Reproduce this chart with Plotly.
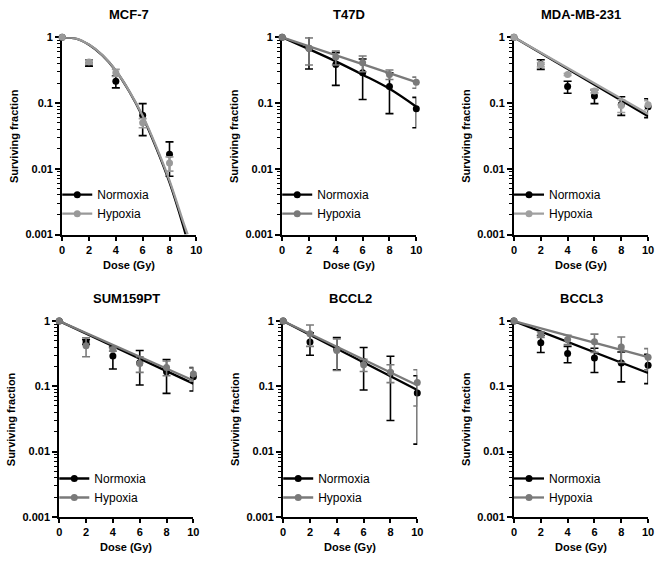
import plotly.graph_objects as go
from plotly.subplots import make_subplots

W, H = 662, 561
FONT = "Liberation Sans, Arial, Helvetica, sans-serif"

# ---------------- data ----------------
titles = ["MCF-7", "T47D", "MDA-MB-231", "SUM159PT", "BCCL2", "BCCL3"]
dose = [0, 2, 4, 6, 8, 10]
dose_mcf7 = [0, 2, 4, 6, 8]
fit_ends = [0, 10]

# MCF-7
mcf7_norm = [1, 0.41, 0.215, 0.065, 0.0167]
mcf7_norm_sd = [0, 0.045, 0.045, 0.033, 0.009]
mcf7_hyp = [1, 0.42, 0.29, 0.05, 0.0122]
mcf7_hyp_sd = [0, 0.03, 0.035, 0.008, 0.003]
mcf7_fit_dose_norm = [0, 1, 2, 3, 4, 5, 6, 7, 8, 9, 9.2]
mcf7_fit_norm = [1, 0.96, 0.77, 0.53, 0.31, 0.15, 0.062, 0.021, 0.0062, 0.0014, 0.001]
mcf7_fit_dose_hyp = [0, 1, 2, 3, 4, 5, 6, 7, 8, 9, 9.35]
mcf7_fit_hyp = [1, 0.965, 0.775, 0.535, 0.312, 0.152, 0.064, 0.022, 0.0066, 0.0016, 0.001]

# T47D
t47d_norm = [1, 0.68, 0.386, 0.29, 0.179, 0.082]
t47d_norm_sd = [0, 0.35, 0.2, 0.177, 0.11, 0.04]
t47d_hyp = [1, 0.68, 0.5, 0.41, 0.273, 0.208]
t47d_hyp_sd = [0, 0.3, 0.12, 0.11, 0.045, 0.04]
t47d_fit_norm = [1, 0.66, 0.43, 0.27, 0.165, 0.088]
t47d_fit_hyp = [1, 0.208]

# MDA-MB-231
mda_norm = [1, 0.39, 0.178, 0.128, 0.095, 0.088]
mda_norm_sd = [0, 0.065, 0.037, 0.03, 0.03, 0.028]
mda_hyp = [1, 0.385, 0.272, 0.153, 0.092, 0.094]
mda_hyp_sd = [0, 0.03, 0.01, 0.01, 0.02, 0.015]
mda_fit_norm = [1, 0.063]
mda_fit_hyp = [1, 0.068]

# SUM159PT
sum_norm = [1, 0.48, 0.292, 0.23, 0.168, 0.14]
sum_norm_sd = [0, 0.04, 0.108, 0.125, 0.09, 0.055]
sum_hyp = [1, 0.42, 0.367, 0.224, 0.195, 0.155]
sum_hyp_sd = [0, 0.135, 0.02, 0.06, 0.05, 0.035]
sum_fit_norm = [1, 0.11]
sum_fit_hyp = [1, 0.123]

# BCCL2
b2_norm = [1, 0.48, 0.37, 0.241, 0.16, 0.079]
b2_norm_sd = [0, 0.18, 0.19, 0.153, 0.13, 0.066]
b2_hyp = [1, 0.64, 0.355, 0.214, 0.164, 0.115]
b2_hyp_sd = [0, 0.23, 0.18, 0.045, 0.05, 0.065]
b2_fit_norm = [1, 0.088]
b2_fit_hyp = [1, 0.104]

# BCCL3
b3_norm = [1, 0.466, 0.32, 0.273, 0.227, 0.21]
b3_norm_sd = [0, 0.135, 0.09, 0.11, 0.11, 0.1]
b3_hyp = [1, 0.62, 0.522, 0.482, 0.402, 0.279]
b3_hyp_sd = [0, 0.06, 0.085, 0.15, 0.17, 0.1]
b3_fit_norm = [1, 0.16]
b3_fit_hyp = [1, 0.28]

y_tickvals = [0.001, 0.01, 0.1, 1]
y_ticktext = ["0.001", "0.01", "0.1", "1"]
x_tickvals = [0, 2, 4, 6, 8, 10]

panels = [
    dict(x=dose_mcf7, n=mcf7_norm, nsd=mcf7_norm_sd, h=mcf7_hyp, hsd=mcf7_hyp_sd,
         fxn=mcf7_fit_dose_norm, fn=mcf7_fit_norm, fxh=mcf7_fit_dose_hyp, fh=mcf7_fit_hyp,
         gray="#999999", spline=True),
    dict(x=dose, n=t47d_norm, nsd=t47d_norm_sd, h=t47d_hyp, hsd=t47d_hyp_sd,
         fxn=dose, fn=t47d_fit_norm, fxh=fit_ends, fh=t47d_fit_hyp, gray="#7a7a7a", spline=True),
    dict(x=dose, n=mda_norm, nsd=mda_norm_sd, h=mda_hyp, hsd=mda_hyp_sd,
         fxn=fit_ends, fn=mda_fit_norm, fxh=fit_ends, fh=mda_fit_hyp, gray="#a0a0a0", spline=False),
    dict(x=dose, n=sum_norm, nsd=sum_norm_sd, h=sum_hyp, hsd=sum_hyp_sd,
         fxn=fit_ends, fn=sum_fit_norm, fxh=fit_ends, fh=sum_fit_hyp, gray="#7a7a7a", spline=False),
    dict(x=dose, n=b2_norm, nsd=b2_norm_sd, h=b2_hyp, hsd=b2_hyp_sd,
         fxn=fit_ends, fn=b2_fit_norm, fxh=fit_ends, fh=b2_fit_hyp, gray="#7a7a7a", spline=False),
    dict(x=dose, n=b3_norm, nsd=b3_norm_sd, h=b3_hyp, hsd=b3_hyp_sd,
         fxn=fit_ends, fn=b3_fit_norm, fxh=fit_ends, fh=b3_fit_hyp, gray="#7a7a7a", spline=False),
]

# pixel layout of each plot area: (left, right, top, bottom)
boxes = [
    (60, 196, 32, 233.5), (283, 419, 32, 233.5), (518, 654, 32, 233.5),
    (57, 193, 322, 522), (284, 420, 322, 522), (518, 654, 322, 522),
]

fig = make_subplots(rows=2, cols=3)

minor_vals = [k * 10 ** e for e in (-3, -2, -1) for k in range(2, 10)]

for i, (p, box) in enumerate(zip(panels, boxes)):
    r, c = i // 3 + 1, i % 3 + 1
    lg = "legend" if i == 0 else f"legend{i+1}"
    gray = p["gray"]
    shape = "spline" if p["spline"] else "linear"
    fig.add_trace(go.Scatter(x=p["fxn"], y=p["fn"], mode="lines", line=dict(color="black", width=2.3, shape=shape),
                             showlegend=False, cliponaxis=False, hoverinfo="skip"), row=r, col=c)
    fig.add_trace(go.Scatter(x=p["x"], y=p["n"], mode="markers", marker=dict(color="black", size=7),
                             error_y=dict(type="data", array=p["nsd"], color="black", thickness=1.6, width=4),
                             showlegend=False, cliponaxis=False, name="Normoxia"), row=r, col=c)
    fig.add_trace(go.Scatter(x=p["fxh"], y=p["fh"], mode="lines", line=dict(color=gray, width=2.3, shape=shape),
                             showlegend=False, cliponaxis=False, hoverinfo="skip"), row=r, col=c)
    fig.add_trace(go.Scatter(x=p["x"], y=p["h"], mode="markers", marker=dict(color=gray, size=7),
                             error_y=dict(type="data", array=p["hsd"], color=gray, thickness=1.6, width=4),
                             showlegend=False, cliponaxis=False, name="Hypoxia"), row=r, col=c)
    fig.add_trace(go.Scatter(x=[None], y=[None], mode="lines+markers", name="Normoxia",
                             line=dict(color="black", width=2.3), marker=dict(color="black", size=7),
                             legend=lg), row=r, col=c)
    fig.add_trace(go.Scatter(x=[None], y=[None], mode="lines+markers", name="Hypoxia",
                             line=dict(color=gray, width=2.3), marker=dict(color=gray, size=7),
                             legend=lg), row=r, col=c)

    L, R, T, B = box
    xa = "xaxis" if i == 0 else f"xaxis{i+1}"
    ya = "yaxis" if i == 0 else f"yaxis{i+1}"
    fig.layout[xa].update(domain=[L / W, R / W])
    fig.layout[ya].update(domain=[1 - B / H, 1 - T / H])

    fig.layout[lg] = dict(x=(L - 5) / W, y=1 - (T + 146) / H, xanchor="left", yanchor="top",
                          bgcolor="rgba(0,0,0,0)", itemwidth=30, tracegroupgap=0,
                          font=dict(family=FONT, size=12, color="black"))

    xref = "x domain" if i == 0 else f"x{i+1} domain"
    yref = "y domain" if i == 0 else f"y{i+1} domain"
    fig.add_annotation(text=titles[i], xref=xref, yref=yref, x=0.5, y=1, yshift=23,
                       showarrow=False, xanchor="center", yanchor="middle",
                       font=dict(family=FONT, size=13, color="black", weight="bold"))
    fig.add_annotation(text="Surviving fraction", xref=xref, yref=yref, x=0, y=0.5, xshift=-48,
                       textangle=-90, showarrow=False, xanchor="center", yanchor="middle",
                       font=dict(family=FONT, size=11, color="black", weight="bold"))
    fig.add_annotation(text="Dose (Gy)", xref=xref, yref=yref, x=0.5, y=0, yshift=-30,
                       showarrow=False, xanchor="center", yanchor="middle",
                       font=dict(family=FONT, size=11, color="black", weight="bold"))

fig.update_xaxes(range=[0, 10], tickvals=x_tickvals, ticks="outside", ticklen=4, tickwidth=1.6,
                 tickcolor="black", showline=True, linewidth=2, linecolor="black", showgrid=False,
                 zeroline=False, layer="below traces",
                 tickfont=dict(family=FONT, size=11, color="black", weight="bold"))
fig.update_yaxes(type="log", range=[-3, 0], tickvals=y_tickvals, ticktext=y_ticktext, ticks="outside",
                 ticklen=5, tickwidth=1.6, tickcolor="black", showline=True, linewidth=2,
                 linecolor="black", showgrid=False, zeroline=False, layer="below traces",
                 minor=dict(tickvals=minor_vals, ticks="outside", ticklen=3, tickwidth=1.2,
                            tickcolor="black", showgrid=False),
                 tickfont=dict(family=FONT, size=11, color="black", weight="bold"))

fig.update_layout(width=W, height=H, margin=dict(l=0, r=0, t=0, b=0),
                  paper_bgcolor="white", plot_bgcolor="white",
                  font=dict(family=FONT, color="black"))

fig.write_html("out.html", config={"displayModeBar": False},
               post_script="document.body.style.margin='0';document.body.style.overflow='hidden';")
